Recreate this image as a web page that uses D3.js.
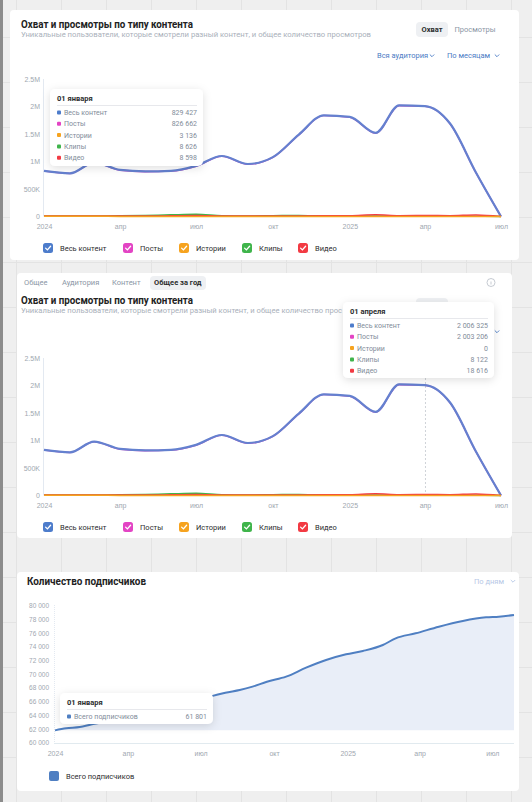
<!DOCTYPE html>
<html>
<head>
<meta charset="utf-8">
<script src="https://cdn.jsdelivr.net/npm/d3@7"></script>
<style>
  body { margin: 0; background: #efefef; }
  svg { display: block; font-family: Roboto, "Noto Sans", sans-serif; }
</style>
</head>
<body>
<svg id="page"></svg>
<script>
// monthly reach by content type
const months = ['2024-01-01','2024-02-01','2024-03-01','2024-04-01','2024-05-01','2024-06-01','2024-07-01',
  '2024-08-01','2024-09-01','2024-10-01','2024-11-01','2024-12-01','2025-01-01','2025-02-01','2025-03-01',
  '2025-04-01','2025-05-01','2025-06-01','2025-07-01'];
const seriesNames = ['Весь контент', 'Посты', 'Истории', 'Клипы', 'Видео'];
const seriesColors = ['#6481cf', '#e344c4', '#f6a31f', '#3fb44b', '#f23a43'];
const totalReach = [829427, 785000, 980000, 847000, 820000, 830000, 920000, 1100000, 955000, 1080000,
  1490000, 1840000, 1810000, 1520000, 2020000, 2006325, 1690000, 800000, 0];
const postsReach = [826662, 782000, 976000, 843000, 816000, 826000, 915000, 1095000, 950000, 1076000,
  1486000, 1836000, 1805000, 1515000, 2016000, 2003206, 1686000, 797000, 0];
const storiesReach = [3136, 2800, 2500, 2200, 2000, 1800, 1500, 1200, 1000, 800, 600, 500, 400, 300, 100, 0, 0, 0, 0];
const clipsReach = [8626, 9000, 10000, 12000, 18000, 30000, 40000, 14000, 9000, 14000, 20000, 12000, 10000,
  9000, 8500, 8122, 7000, 5000, 0];
const videoReach = [8598, 7000, 9000, 8000, 7500, 12000, 18000, 10000, 8000, 9000, 10000, 12000, 14000,
  30000, 15000, 18616, 14000, 28000, 0];
const reachTicks = [0, 500000, 1000000, 1500000, 2000000, 2500000];
const reachTickLabels = ['0', '500K', '1M', '1.5M', '2M', '2.5M'];

const xTickDates = ['2024-01-01','2024-04-01','2024-07-01','2024-10-01','2025-01-01','2025-04-01','2025-07-01'];
const xTickLabels = ['2024', 'апр', 'июл', 'окт', '2025', 'апр', 'июл'];

// subscribers
const subsDates = ['2024-01-01','2024-01-15','2024-02-01','2024-02-15','2024-03-01','2024-03-15','2024-04-01',
  '2024-04-15','2024-05-01','2024-05-15','2024-06-01','2024-06-15','2024-07-01','2024-07-15','2024-08-01',
  '2024-08-19','2024-09-04','2024-09-22','2024-10-16','2024-11-10','2024-12-05','2024-12-30','2025-01-20',
  '2025-02-14','2025-03-02','2025-03-27','2025-04-25','2025-05-25','2025-06-23','2025-07-09','2025-07-28'];
const subsValues = [61801, 62100, 62300, 62650, 63000, 63400, 63800, 64200, 64650, 65000, 65450, 65800, 66250,
  66800, 67300, 67690, 68180, 68900, 69640, 70950, 72070, 72900, 73390, 74260, 75240, 75970, 76940, 77770,
  78300, 78400, 78640];
const subsTicks = [60000, 62000, 64000, 66000, 68000, 70000, 72000, 74000, 76000, 78000, 80000];

const W = 532, H = 802;
const parse = d3.timeParse('%Y-%m-%d');
const ru = d3.formatLocale({ decimal: ',', thousands: ' ', grouping: [3], currency: ['', ''] });
const fmt = ru.format(',d');

const svg = d3.select('#page').attr('width', W).attr('height', H);

const defs = svg.append('defs');
defs.append('filter').attr('id', 'shadow').attr('x', '-20%').attr('y', '-30%').attr('width', '140%').attr('height', '160%')
  .append('feDropShadow').attr('dx', 0).attr('dy', 2).attr('stdDeviation', 4)
  .attr('flood-color', '#000').attr('flood-opacity', 0.13);

// page background with board grid
svg.append('rect').attr('width', W).attr('height', H).attr('fill', '#efefef');
const grid = svg.append('g').attr('stroke', '#e3e3e3').attr('stroke-width', 1);
d3.range(16, W, 45).forEach(x => grid.append('line').attr('x1', x + .5).attr('x2', x + .5).attr('y1', 0).attr('y2', H));
d3.range(37, H, 45).forEach(y => grid.append('line').attr('x1', 0).attr('x2', W).attr('y1', y + .5).attr('y2', y + .5));
svg.append('rect').attr('x', 0).attr('y', 0).attr('width', 3).attr('height', H).attr('fill', '#8c8c8c');

// cards
[[10, 10, 509, 250], [17, 273, 495, 265], [17, 572, 502, 219]].forEach(([x, y, w, h]) => {
  svg.append('rect').attr('x', x).attr('y', y).attr('width', w).attr('height', h).attr('rx', 4).attr('fill', '#fff');
});

function chevron(g, x, y, color) {
  g.append('path').attr('d', `M${x - 2.2},${y - 1} L${x},${y + 1.2} L${x + 2.2},${y - 1}`)
    .attr('fill', 'none').attr('stroke', color).attr('stroke-width', 0.9);
}

// title block; when covered by a tooltip only the visible bits are drawn
function header(top, covered) {
  const g = svg.append('g');
  g.append('text').attr('x', 21).attr('y', top).attr('dy', '0.35em')
    .attr('font-size', 10.5).attr('font-weight', 700).attr('fill', '#222')
    .attr('textLength', 172).attr('lengthAdjust', 'spacingAndGlyphs')
    .text('Охват и просмотры по типу контента');
  g.append('text').attr('x', 21).attr('y', top + 10.5).attr('dy', '0.35em')
    .attr('font-size', 7.5).attr('fill', '#a9b0ba')
    .attr('textLength', covered ? 321 : 350).attr('lengthAdjust', 'spacingAndGlyphs')
    .text(covered
      ? 'Уникальные пользователи, которые смотрели разный контент, и общее количество прос'
      : 'Уникальные пользователи, которые смотрели разный контент, и общее количество просмотров');
  g.append('rect').attr('x', 416).attr('y', top - 2).attr('width', 32).attr('height', 15).attr('rx', 4).attr('fill', '#eef0f3');
  chevron(g, 497, top + 31.5, '#4a7bc4');
  if (covered) return;
  g.append('text').attr('x', 432).attr('y', top + 5.5).attr('dy', '0.35em').attr('text-anchor', 'middle')
    .attr('font-size', 7.5).attr('font-weight', 700).attr('fill', '#2c2d2e').text('Охват');
  g.append('text').attr('x', 475).attr('y', top + 5.5).attr('dy', '0.35em').attr('text-anchor', 'middle')
    .attr('font-size', 7.5).attr('fill', '#8b96a5').text('Просмотры');
  g.append('text').attr('x', 377).attr('y', top + 31.5).attr('dy', '0.35em')
    .attr('font-size', 7.5).attr('fill', '#4a7bc4').text('Вся аудитория');
  chevron(g, 432, top + 31.5, '#4a7bc4');
  g.append('text').attr('x', 447).attr('y', top + 31.5).attr('dy', '0.35em')
    .attr('font-size', 7.5).attr('fill', '#4a7bc4').text('По месяцам');
}

function checkbox(g, x, y, color) {
  g.append('rect').attr('x', x).attr('y', y - 5).attr('width', 10).attr('height', 10).attr('rx', 2.5).attr('fill', color);
  g.append('path').attr('d', `M${x + 2.6},${y + 0.1} L${x + 4.4},${y + 1.9} L${x + 7.6},${y - 1.7}`)
    .attr('fill', 'none').attr('stroke', '#fff').attr('stroke-width', 1.3).attr('stroke-linecap', 'round');
}

function tooltip(x, y, w, h, title, rows) {
  const g = svg.append('g');
  g.append('rect').attr('x', x).attr('y', y).attr('width', w).attr('height', h).attr('rx', 5)
    .attr('fill', '#fff').attr('filter', 'url(#shadow)');
  g.append('text').attr('x', x + 7).attr('y', y + 9).attr('dy', '0.35em')
    .attr('font-size', 7.5).attr('font-weight', 700).attr('fill', '#2c2d2e').text(title);
  g.append('line').attr('x1', x + 7).attr('x2', x + w - 6).attr('y1', y + 16.5).attr('y2', y + 16.5)
    .attr('stroke', '#e7e8ec').attr('stroke-width', 1);
  rows.forEach((r, i) => {
    const cy = y + 23.5 + i * 11.3;
    g.append('rect').attr('x', x + 7).attr('y', cy - 2).attr('width', 4).attr('height', 4).attr('rx', 1).attr('fill', r.color);
    g.append('text').attr('x', x + 14).attr('y', cy).attr('dy', '0.35em')
      .attr('font-size', 7).attr('fill', '#818c99').text(r.label);
    g.append('text').attr('x', x + w - 6).attr('y', cy).attr('dy', '0.35em').attr('text-anchor', 'end')
      .attr('font-size', 7).attr('fill', '#818c99').text(r.value);
  });
}

const reachSeries = [totalReach, postsReach, storiesReach, clipsReach, videoReach];
const monthDates = months.map(parse);
const legendColors = ['#4d7ccb', '#e344c4', '#f6a31f', '#3fb44b', '#f23a43'];

function contentChart(yTop, yZero, hoverIndex) {
  const g = svg.append('g');
  const x = d3.scaleTime().domain([monthDates[0], monthDates[monthDates.length - 1]]).range([44, 501]);
  const y = d3.scaleLinear().domain([0, 2500000]).range([yZero, yTop]);

  g.append('line').attr('x1', 43.5).attr('x2', 43.5).attr('y1', yTop).attr('y2', yZero)
    .attr('stroke', '#e3e9f1');

  const yAxis = d3.axisLeft(y).tickValues(reachTicks).tickSize(0).tickPadding(5)
    .tickFormat((d, i) => reachTickLabels[i]);
  const ya = g.append('g').attr('transform', 'translate(40,0)').call(yAxis);
  ya.select('.domain').remove();
  ya.selectAll('text').attr('font-size', 7).attr('fill', '#a0a7b0').attr('font-family', null).attr('x', 0);

  const xAxis = d3.axisBottom(x).tickValues(xTickDates.map(parse)).tickSize(0).tickPadding(8)
    .tickFormat((d, i) => xTickLabels[i]);
  const xa = g.append('g').attr('transform', `translate(0,${yZero})`).call(xAxis);
  xa.select('.domain').remove();
  xa.selectAll('text').attr('font-size', 7).attr('fill', '#a0a7b0').attr('font-family', null);

  if (hoverIndex !== null) {
    g.append('line').attr('x1', x(monthDates[hoverIndex]) + .5).attr('x2', x(monthDates[hoverIndex]) + .5)
      .attr('y1', yTop).attr('y2', yZero).attr('stroke', '#cfd3d8').attr('stroke-dasharray', '2,2');
  }

  const line = d3.line().x((d, i) => x(monthDates[i])).y(d => y(d)).curve(d3.curveMonotoneX);
  const order = [1, 0, 3, 4, 2];
  order.forEach(k => {
    g.append('path').datum(reachSeries[k]).attr('d', line).attr('fill', 'none')
      .attr('stroke', seriesColors[k]).attr('stroke-width', k === 0 ? 2.2 : (k === 1 ? 1.6 : 1.5));
  });

  const legendX = [43, 123, 179, 242, 298];
  const ly = yZero + 31.5;
  seriesNames.forEach((name, i) => {
    checkbox(g, legendX[i], ly, legendColors[i]);
    g.append('text').attr('x', legendX[i] + 17).attr('y', ly).attr('dy', '0.35em')
      .attr('font-size', 7.5).attr('fill', '#2c2d2e').text(name);
  });
  return x;
}

// card 1
header(24, false);
contentChart(79, 216.5, null);
tooltip(50, 89, 153, 77, '01 января', seriesNames.map((n, i) => ({
  label: n, color: legendColors[i], value: fmt(reachSeries[i][0])
})));

// card 2 tabs
const tabs = svg.append('g');
tabs.append('rect').attr('x', 150).attr('y', 276).attr('width', 56).attr('height', 14).attr('rx', 4).attr('fill', '#eef0f3');
[['Общее', 24, false], ['Аудитория', 62, false], ['Контент', 112, false], ['Общее за год', 154, true]].forEach(([t, tx, act]) => {
  tabs.append('text').attr('x', tx).attr('y', 282.5).attr('dy', '0.35em').attr('font-size', 7.5)
    .attr('font-weight', act ? 700 : 400).attr('fill', act ? '#2c2d2e' : '#8b96a5').text(t);
});
tabs.append('circle').attr('cx', 491).attr('cy', 282.5).attr('r', 4).attr('fill', 'none').attr('stroke', '#b8bec6').attr('stroke-width', 0.8);
tabs.append('line').attr('x1', 491).attr('x2', 491).attr('y1', 281.5).attr('y2', 284.5).attr('stroke', '#b8bec6').attr('stroke-width', 0.8);

header(300, true);
contentChart(358, 495.5, 15);
tooltip(343, 302, 151, 76, '01 апреля', seriesNames.map((n, i) => ({
  label: n, color: legendColors[i], value: fmt(reachSeries[i][15])
})));

// card 3: subscribers
const g3 = svg.append('g');
g3.append('text').attr('x', 27).attr('y', 581).attr('dy', '0.35em')
  .attr('font-size', 10).attr('font-weight', 700).attr('fill', '#222')
  .attr('textLength', 119).attr('lengthAdjust', 'spacingAndGlyphs').text('Количество подписчиков');
g3.append('text').attr('x', 474).attr('y', 581).attr('dy', '0.35em')
  .attr('font-size', 7.5).attr('fill', '#b7c8e6').text('По дням');
chevron(g3, 513, 581, '#b7c8e6');

const subsParsed = subsDates.map(parse);
const xs = d3.scaleTime().domain([subsParsed[0], subsParsed[subsParsed.length - 1]]).range([55, 514]);
const ys = d3.scaleLinear().domain([60000, 80000]).range([742.7, 605.7]);

g3.append('line').attr('x1', 54.5).attr('x2', 54.5).attr('y1', 605).attr('y2', 743)
  .attr('stroke', '#e3e9f1').attr('stroke-dasharray', '1,1');
g3.append('line').attr('x1', 54).attr('x2', 514).attr('y1', 743.5).attr('y2', 743.5).attr('stroke', '#e1eaef');

const ysAxis = g3.append('g').attr('transform', 'translate(49,0)')
  .call(d3.axisLeft(ys).tickValues(subsTicks).tickSize(0).tickPadding(0).tickFormat(fmt));
ysAxis.select('.domain').remove();
ysAxis.selectAll('text').attr('font-size', 6.5).attr('fill', '#a0a7b0').attr('font-family', null);

const xsAxis = g3.append('g').attr('transform', 'translate(0,743)')
  .call(d3.axisBottom(xs).tickValues(xTickDates.map(parse)).tickSize(0).tickPadding(8)
    .tickFormat((d, i) => xTickLabels[i]));
xsAxis.select('.domain').remove();
xsAxis.selectAll('text').attr('font-size', 7).attr('fill', '#a0a7b0').attr('font-family', null);

const subsMin = d3.min(subsValues);
const area = d3.area().x((d, i) => xs(subsParsed[i])).y0(ys(subsMin)).y1(d => ys(d)).curve(d3.curveMonotoneX);
const subsLine = d3.line().x((d, i) => xs(subsParsed[i])).y(d => ys(d)).curve(d3.curveMonotoneX);
g3.append('path').datum(subsValues).attr('d', area).attr('fill', '#e9eef8');
g3.append('path').datum(subsValues).attr('d', subsLine).attr('fill', 'none')
  .attr('stroke', '#4f7fc2').attr('stroke-width', 2);

g3.append('rect').attr('x', 49).attr('y', 771).attr('width', 10).attr('height', 10).attr('rx', 2).attr('fill', '#4f7fc2');
g3.append('text').attr('x', 66).attr('y', 776).attr('dy', '0.35em').attr('font-size', 7.5)
  .attr('fill', '#2c2d2e').text('Всего подписчиков');

tooltip(60, 693, 153, 31, '01 января', [{ label: 'Всего подписчиков', color: '#4f7fc2', value: fmt(subsValues[0]) }]);
</script>
</body>
</html>
